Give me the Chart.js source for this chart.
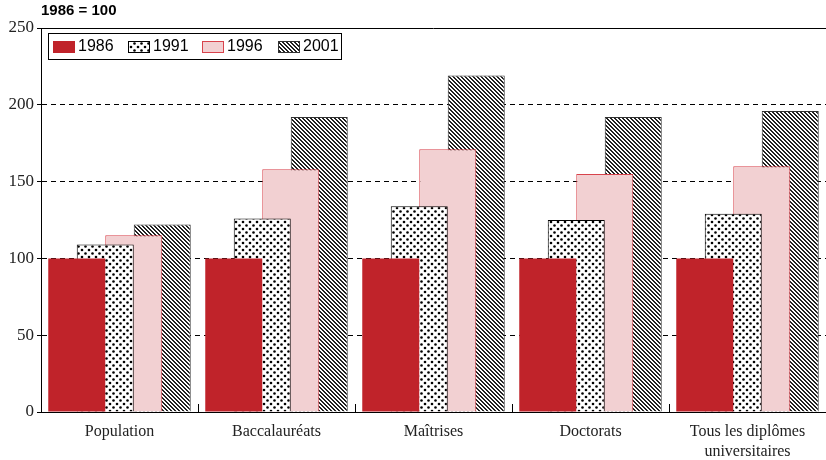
<!DOCTYPE html>
<html>
<head>
<meta charset="utf-8">
<script src="https://cdn.jsdelivr.net/npm/chart.js@4.4.0/dist/chart.umd.min.js"></script>
<style>
  html, body { margin: 0; padding: 0; background: #fff; }
  #wrap { width: 826px; height: 460px; }
</style>
</head>
<body>
<div id="wrap"><canvas id="myChart" width="826" height="460"></canvas></div>
<script>
// data (1986 = 100)
var categories = ['Population', 'Baccalauréats', 'Maîtrises', 'Doctorats', ['Tous les diplômes', 'universitaires']];
var years = ['1986', '1991', '1996', '2001'];
var v1986 = [100, 100, 100, 100, 100];
var v1991 = [109, 126, 134, 125, 129];
var v1996 = [115, 158, 171, 155, 160];
var v2001 = [122, 192, 219, 192, 196];
var yTicks = [0, 50, 100, 150, 200, 250];

var serif = "'Liberation Serif', 'DejaVu Serif', serif";
var sans = "'Liberation Sans', Arial, sans-serif";

// dotted fill
function dotPattern() {
    var c = document.createElement('canvas');
    c.width = 7; c.height = 7;
    var g = c.getContext('2d');
    g.fillStyle = '#fff';
    g.fillRect(0, 0, 7, 7);
    g.fillStyle = '#000';
    g.beginPath(); g.arc(1.5, 1.5, 1.3, 0, Math.PI * 2); g.fill();
    g.beginPath(); g.arc(5, 5, 1.3, 0, Math.PI * 2); g.fill();
    return g.createPattern(c, 'repeat');
}

// diagonal hatch, top-left to bottom-right
function hatchPattern() {
    var c = document.createElement('canvas');
    c.width = 4; c.height = 4;
    var g = c.getContext('2d');
    g.fillStyle = '#fff';
    g.fillRect(0, 0, 4, 4);
    g.fillStyle = '#222';
    for (var i = 0; i < 4; i++) {
        g.fillRect(i, i, 1, 1);
        g.fillRect((i + 1) % 4, i, 1, 1);
    }
    return g.createPattern(c, 'repeat');
}

var fills = ['#c0232a', dotPattern(), '#f2d0d2', hatchPattern()];
var borders = ['#c0232a', '#000000', '#d8434c', '#333333'];

// title, frame, inner x ticks and legend
const extras = {
    id: 'extras',
    afterDraw(chart) {
        const ctx = chart.ctx;
        const area = chart.chartArea;
        const xs = chart.scales.x;
        ctx.save();

        // top frame line
        ctx.strokeStyle = '#000';
        ctx.lineWidth = 1;
        ctx.beginPath();
        ctx.moveTo(area.left, Math.round(area.top) + 0.5);
        ctx.lineTo(area.right, Math.round(area.top) + 0.5);
        ctx.stroke();

        // short ticks between categories, pointing up
        for (let i = 0; i < categories.length - 1; i++) {
            const px = Math.round((xs.getPixelForTick(i) + xs.getPixelForTick(i + 1)) / 2) + 0.5;
            ctx.beginPath();
            ctx.moveTo(px, area.bottom);
            ctx.lineTo(px, area.bottom - 8);
            ctx.stroke();
        }

        // title
        ctx.fillStyle = '#000';
        ctx.font = "bold 15px " + sans;
        ctx.textBaseline = 'middle';
        ctx.textAlign = 'left';
        ctx.fillText('1986 = 100', 41, 11);

        // legend
        const lx = 48, ly = 33, lw = 293, lh = 26;
        ctx.fillStyle = '#fff';
        ctx.fillRect(lx, ly, lw, lh);
        ctx.strokeStyle = '#000';
        ctx.strokeRect(lx + 0.5, ly + 0.5, lw, lh);
        const swX = [53, 128, 202, 278];
        ctx.font = "16px " + sans;
        chart.data.datasets.forEach((ds, i) => {
            ctx.fillStyle = ds.backgroundColor;
            ctx.fillRect(swX[i], 41, 22, 12);
            ctx.strokeStyle = ds.borderColor;
            ctx.strokeRect(swX[i] + 0.5, 41.5, 21, 11);
            ctx.fillStyle = '#000';
            ctx.fillText(ds.label, swX[i] + 25, 47);
        });
        ctx.restore();
    }
};

const ctxs = document.getElementById('myChart').getContext('2d');

const myChart = new Chart(ctxs, {
    type: 'bar',
    data: {
        labels: categories,
        datasets: [
            { label: years[0], data: v1986, backgroundColor: fills[0], borderColor: borders[0], borderWidth: 0 },
            { label: years[1], data: v1991, backgroundColor: fills[1], borderColor: borders[1], borderWidth: 1 },
            { label: years[2], data: v1996, backgroundColor: fills[2], borderColor: borders[2], borderWidth: 1 },
            { label: years[3], data: v2001, backgroundColor: fills[3], borderColor: borders[3], borderWidth: 1 },
        ],
    },
    options: {
        responsive: false,
        animation: false,
        categoryPercentage: 0.726,
        barPercentage: 2.0,
        layout: { padding: { top: 28, left: 0, right: -3, bottom: 0 } },
        scales: {
            x: {
                offset: true,
                grid: { display: false, drawTicks: false },
                border: { display: true, color: '#000', width: 1 },
                ticks: {
                    color: '#222',
                    font: { family: serif, size: 16, lineHeight: 1.25 },
                    padding: 10,
                    maxRotation: 0,
                    autoSkip: false,
                },
                afterFit: function (scale) { scale.height = 48; },
            },
            y: {
                min: 0,
                max: 250,
                afterBuildTicks: function (scale) {
                    scale.ticks = yTicks.map(v => ({ value: v }));
                },
                grid: {
                    color: function (c) {
                        return (c.tick && c.tick.value > 0 && c.tick.value < 250) ? '#000' : 'rgba(0,0,0,0)';
                    },
                    tickColor: '#000',
                    tickLength: 4,
                    tickBorderDash: [],
                },
                border: { display: true, color: '#000', width: 1, dash: [5, 4] },
                ticks: {
                    color: '#222',
                    font: { family: serif, size: 17 },
                    padding: 3,
                },
                afterFit: function (scale) { scale.width = 41; },
            },
        },
        plugins: {
            legend: { display: false },
            tooltip: { enabled: false },
            title: { display: false },
        },
    },
    plugins: [extras],
});
</script>
</body>
</html>
